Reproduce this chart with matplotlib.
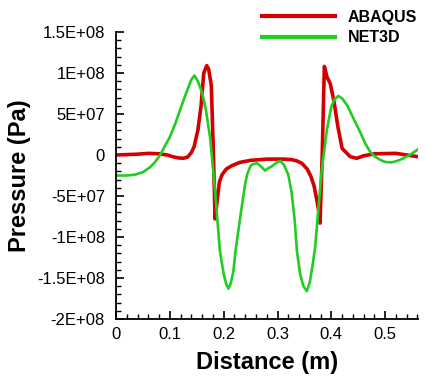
import numpy as np
import matplotlib
matplotlib.use('Agg')
import matplotlib.pyplot as plt
from matplotlib.ticker import MultipleLocator, FuncFormatter

plt.rcParams['font.family'] = ['Liberation Sans', 'DejaVu Sans']

# ABAQUS curve (red)
abaqus_x = [0, 0.02, 0.04, 0.06, 0.08, 0.095, 0.105, 0.115, 0.125, 0.133, 0.14, 0.145,
            0.152, 0.158, 0.163, 0.1685, 0.172, 0.177, 0.181, 0.184, 0.188, 0.192, 0.197,
            0.205, 0.215, 0.23, 0.25, 0.28, 0.31, 0.325, 0.335, 0.345, 0.355, 0.362,
            0.368, 0.373, 0.377, 0.379, 0.383, 0.387, 0.392, 0.398, 0.405, 0.412, 0.42,
            0.435, 0.447, 0.46, 0.48, 0.52, 0.56]
abaqus_y = [0, 5e5, 1e6, 2e6, 1.5e6, 0, -2e6, -3.5e6, -4e6, -2.5e6, 3e6, 1e7,
            3e7, 6e7, 1e8, 1.09e8, 1.05e8, 8.5e7, 0, -7.8e7, -5.5e7, -3.3e7, -2.4e7,
            -1.7e7, -1.3e7, -9e6, -6.5e6, -5e6, -5e6, -5.5e6, -7e6, -1e7, -1.7e7, -2.6e7,
            -3.8e7, -5.5e7, -7e7, -8.3e7, 0, 1.08e8, 9.5e7, 8.7e7, 6.5e7, 3.5e7, 8e6,
            -2e6, -4e6, -1e6, 1.5e6, 2e6, -2e6]

# NET3D curve (green)
net3d_x = [0, 0.02, 0.035, 0.05, 0.063, 0.072, 0.082, 0.09, 0.1, 0.11, 0.119, 0.13,
           0.14, 0.1456, 0.152, 0.16, 0.167, 0.175, 0.184, 0.193, 0.2, 0.205, 0.2087,
           0.213, 0.218, 0.222, 0.232, 0.24, 0.2435, 0.25, 0.255, 0.262, 0.2677, 0.277,
           0.283, 0.289, 0.297, 0.305, 0.312, 0.32, 0.326, 0.332, 0.336, 0.342, 0.348,
           0.3544, 0.36, 0.365, 0.37, 0.376, 0.3825, 0.392, 0.4, 0.406, 0.413, 0.42,
           0.429, 0.44, 0.4535, 0.463, 0.472, 0.481, 0.491, 0.5, 0.512, 0.523, 0.534,
           0.548, 0.561]
net3d_y = [-2.5e7, -2.5e7, -2.4e7, -2.1e7, -1.5e7, -9e6, 0, 1e7, 2.2e7, 3.8e7, 5.5e7, 7.5e7,
           9.2e7, 9.7e7, 9e7, 7.6e7, 5.5e7, 2e7, -4.4e7, -1.17e8, -1.45e8, -1.58e8, -1.63e8,
           -1.57e8, -1.42e8, -1.17e8, -7e7, -3.5e7, -2.4e7, -1.3e7, -1.1e7, -1e7, -1.3e7, -1.9e7,
           -1.6e7, -1.4e7, -1e7, -7e6, -1.2e7, -2.4e7, -4.5e7, -8e7, -1.17e8, -1.45e8, -1.6e8,
           -1.66e8, -1.55e8, -1.35e8, -1.12e8, -6.5e7, -1.6e7, 3.2e7, 5.9e7, 6.8e7, 7.2e7, 6.9e7,
           6.1e7, 4.6e7, 2.8e7, 1.4e7, 4e6, -2e6, -6e6, -8.5e6, -9e6, -7e6, -4e6,
           1e6, 7e6]

xticks = [0, 0.1, 0.2, 0.3, 0.4, 0.5]
yticks = [-2e8, -1.5e8, -1e8, -5e7, 0, 5e7, 1e8, 1.5e8]


def sci_label(v, pos):
    if v == 0:
        return '0'
    s = '%.1E' % v
    mant, exp = s.split('E')
    mant = mant.rstrip('0').rstrip('.')
    return mant + 'E' + exp


fig = plt.figure(figsize=(4.27, 3.81), dpi=100)
ax = fig.add_axes([0.2717, 0.1627, 0.7073, 0.7533])

ax.plot(abaqus_x, abaqus_y, color='#d40000', lw=2.6, label='ABAQUS')
ax.plot(net3d_x, net3d_y, color='#22cc22', lw=1.9, label='NET3D')

ax.set_xlim(0, 0.561)
ax.set_ylim(-2e8, 1.5e8)
ax.set_xticks(xticks)
ax.set_yticks(yticks)
ax.xaxis.set_minor_locator(MultipleLocator(0.02))
ax.yaxis.set_minor_locator(MultipleLocator(1e7))
ax.xaxis.set_major_formatter(FuncFormatter(lambda v, p: '%g' % v))
ax.yaxis.set_major_formatter(FuncFormatter(sci_label))

ax.spines['top'].set_visible(False)
ax.spines['right'].set_visible(False)
ax.spines['left'].set_linewidth(1.3)
ax.spines['bottom'].set_linewidth(1.3)
ax.tick_params(which='major', direction='in', length=6, width=1.2, labelsize=12)
ax.tick_params(which='minor', direction='in', length=3.5, width=1.0)
ax.tick_params(axis='y', which='major', pad=8)
ax.tick_params(axis='x', which='major', pad=6)

ax.set_xlabel('Distance (m)', fontsize=17, fontweight='bold', labelpad=6)
ax.set_ylabel('Pressure (Pa)', fontsize=17, fontweight='bold', labelpad=4)

leg = fig.legend(loc='upper right', bbox_to_anchor=(1.0, 1.0), frameon=False,
                 prop={'weight': 'bold', 'size': 11.5}, handlelength=4.6,
                 handletextpad=0.8, labelspacing=0.35, borderaxespad=0.2)
for line in leg.get_lines():
    line.set_linewidth(3.0)

fig.savefig('out.png', dpi=100)
